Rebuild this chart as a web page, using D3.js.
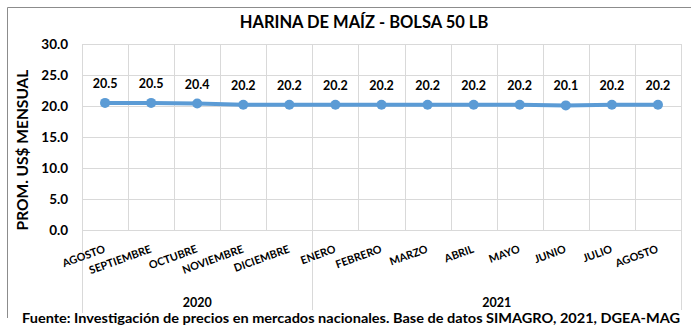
<!DOCTYPE html>
<html>
<head>
<meta charset="utf-8">
<script src="https://cdn.jsdelivr.net/npm/d3@7"></script>
<style>
  html, body { margin: 0; padding: 0; background: #fff; }
  svg { display: block; }
  text { font-family: Lato, "Open Sans", sans-serif; font-weight: bold; fill: #000; }
</style>
</head>
<body>
<svg id="chart" width="691" height="326"></svg>
<script>
// Monthly average price, corn flour 50 lb bag (US$)
const months = ["AGOSTO", "SEPTIEMBRE", "OCTUBRE", "NOVIEMBRE", "DICIEMBRE",
  "ENERO", "FEBRERO", "MARZO", "ABRIL", "MAYO", "JUNIO", "JULIO", "AGOSTO"];
const years = ["2020", "2021"];
const yearSpans = [5, 8]; // months per year group
const prices = [20.5, 20.5, 20.4, 20.2, 20.2, 20.2, 20.2, 20.2, 20.2, 20.2, 20.1, 20.2, 20.2];
const yTicks = [0, 5, 10, 15, 20, 25, 30];

const title = "HARINA DE MAÍZ - BOLSA 50 LB";
const yTitle = "PROM. US$ MENSUAL";
const source = "Fuente: Investigación de precios en mercados nacionales. Base de datos SIMAGRO, 2021, DGEA-MAG";

const svg = d3.select("#chart");
const plot = { left: 82, right: 681, top: 44, bottom: 230 };

const keys = months.map((m, i) => i);
const x = d3.scaleBand().domain(keys).range([plot.left, plot.right]);
const y = d3.scaleLinear().domain([0, 30]).range([plot.bottom, plot.top]);
const gridColor = "#d9d9d9";

// chart frame (top and left edges visible)
svg.append("path")
  .attr("d", `M7.5,318 V7.5 H691`)
  .attr("fill", "none")
  .attr("stroke", "#8c8c8c")
  .attr("stroke-width", 1);

// title
svg.append("text")
  .attr("x", 364).attr("y", 28)
  .attr("text-anchor", "middle")
  .style("font-size", "16.5px")
  .text(title);

// horizontal gridlines
svg.append("g")
  .selectAll("line")
  .data(yTicks)
  .join("line")
  .attr("x1", plot.left).attr("x2", plot.right)
  .attr("y1", d => Math.round(y(d)) + 0.5).attr("y2", d => Math.round(y(d)) + 0.5)
  .attr("stroke", gridColor).attr("stroke-width", 1);

// vertical gridlines at category boundaries
const bounds = keys.map(k => x(k)).concat([plot.right]);
svg.append("g")
  .selectAll("line")
  .data(bounds)
  .join("line")
  .attr("x1", d => Math.round(d) + 0.5).attr("x2", d => Math.round(d) + 0.5)
  .attr("y1", plot.top).attr("y2", plot.bottom)
  .attr("stroke", gridColor).attr("stroke-width", 1);

// year group separators below the axis
let acc = 0;
const groupEdges = [0];
yearSpans.forEach(s => { acc += s; groupEdges.push(acc); });
const edgeX = i => (i < keys.length ? x(i) : plot.right);
svg.append("g")
  .selectAll("line")
  .data(groupEdges)
  .join("line")
  .attr("x1", d => Math.round(edgeX(d)) + 0.5).attr("x2", d => Math.round(edgeX(d)) + 0.5)
  .attr("y1", plot.bottom).attr("y2", (d, i) => i === 0 ? 316 : 310)
  .attr("stroke", gridColor).attr("stroke-width", 1);

// y axis tick labels
const yAxis = d3.axisLeft(y).tickValues(yTicks).tickFormat(d3.format(".1f")).tickSize(0).tickPadding(0);
const yg = svg.append("g").attr("transform", `translate(68,0)`).call(yAxis);
yg.select(".domain").remove();
yg.selectAll("text")
  .style("font-size", "13.5px")
  .style("font-family", "Lato, sans-serif")
  .attr("fill", "#000");

// y axis title
svg.append("text")
  .attr("transform", "translate(28,150) rotate(-90)")
  .attr("text-anchor", "middle")
  .style("font-size", "15.5px")
  .text(yTitle);

// month labels, tilted
const xAxis = d3.axisBottom(x).tickFormat(i => months[i]).tickSize(0);
const xg = svg.append("g").attr("transform", `translate(0,${plot.bottom})`).call(xAxis);
xg.select(".domain").remove();
xg.selectAll(".tick text")
  .attr("y", 0).attr("dy", 0)
  .attr("text-anchor", "end")
  .attr("transform", "translate(1,22) rotate(-20)")
  .style("font-size", "10.8px")
  .style("font-family", "Lato, sans-serif")
  .attr("fill", "#000");

// year labels centered under each group
svg.append("g")
  .selectAll("text")
  .data(years)
  .join("text")
  .attr("x", (d, i) => (edgeX(groupEdges[i]) + edgeX(groupEdges[i + 1])) / 2)
  .attr("y", 307)
  .attr("text-anchor", "middle")
  .style("font-size", "12.5px")
  .text(d => d);

// price line
const cx = i => x(i) + x.bandwidth() / 2;
svg.append("path")
  .datum(prices)
  .attr("d", d3.line().x((d, i) => cx(i)).y(d => y(d)))
  .attr("fill", "none")
  .attr("stroke", "#5b9bd5")
  .attr("stroke-width", 4)
  .attr("stroke-linejoin", "round");

svg.append("g")
  .selectAll("circle")
  .data(prices)
  .join("circle")
  .attr("cx", (d, i) => cx(i))
  .attr("cy", d => y(d))
  .attr("r", 5)
  .attr("fill", "#5b9bd5");

// value labels
svg.append("g")
  .selectAll("text")
  .data(prices)
  .join("text")
  .attr("x", (d, i) => cx(i))
  .attr("y", d => y(d) - 15)
  .attr("text-anchor", "middle")
  .style("font-size", "12.5px")
  .text(d => d3.format(".1f")(d));

// source note, on a white strip over the frame edge
svg.append("rect")
  .attr("x", 8).attr("y", 313).attr("width", 683).attr("height", 13)
  .attr("fill", "#fff");
svg.append("text")
  .attr("x", 22).attr("y", 323)
  .style("font-size", "13px")
  .attr("textLength", 658)
  .attr("lengthAdjust", "spacingAndGlyphs")
  .text(source);
</script>
</body>
</html>
